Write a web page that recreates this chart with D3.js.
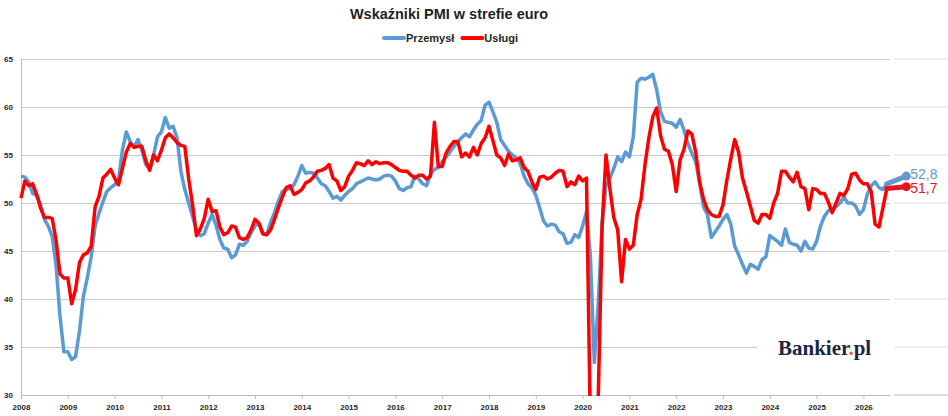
<!DOCTYPE html>
<html>
<head>
<meta charset="utf-8">
<script src="https://cdn.jsdelivr.net/npm/d3@7"></script>
<style>
  body { margin: 0; background: #fff; }
  svg { display: block; }
</style>
</head>
<body>
<script>
var width = 948;
var height = 416;

// x axis labels (one tick every 12 months, first month = Jan 2008)
var years = [2008, 2009, 2010, 2011, 2012, 2013, 2014, 2015, 2016, 2017,
             2018, 2019, 2020, 2021, 2022, 2023, 2024, 2025, 2026];
var yTicks = [30, 35, 40, 45, 50, 55, 60, 65];
var seriesNames = ["Przemysł", "Usługi"];

// monthly PMI
var przemysl = [
  52.8, 52.7, 52.2, 51.0, 50.8, 49.9, 48.3, 47.6, 46.5, 43.5, 38.2, 34.5,
  34.5, 33.7, 34.0, 36.7, 40.3, 42.2, 44.4, 47.6, 48.9, 50.1, 51.2, 51.6,
  51.9, 52.4, 55.5, 57.4, 56.4, 55.8, 56.6, 55.5, 54.0, 53.6, 55.0, 56.9,
  57.4, 58.9, 57.8, 58.0, 56.8, 53.3, 51.4, 50.0, 48.6, 47.2, 46.6, 46.8,
  47.9, 48.8, 47.7, 46.2, 45.3, 45.2, 44.3, 44.6, 45.7, 45.6, 46.0, 46.9,
  47.6, 47.9, 46.8, 46.7, 48.0, 49.0, 50.2, 51.2, 51.4, 51.5, 51.9, 52.8,
  53.9, 53.1, 53.2, 53.1, 52.6, 52.0, 51.8, 51.2, 50.5, 50.7, 50.3, 50.8,
  51.2, 51.5, 52.0, 52.2, 52.4, 52.6, 52.5, 52.4, 52.5, 52.8, 52.9, 52.8,
  52.3, 51.5, 51.3, 51.6, 51.7, 52.8, 52.5, 52.0, 51.8, 53.0, 53.5, 53.7,
  54.3, 54.8, 55.3, 55.9, 56.4, 56.8, 57.2, 56.9, 57.6, 58.2, 58.6, 60.2,
  60.5, 59.5, 58.4, 56.6, 56.0, 55.4, 55.0, 54.7, 54.1, 52.8, 52.0, 51.6,
  50.8, 49.5, 48.1, 47.6, 47.8, 47.7, 47.0, 46.8, 45.8, 45.9, 46.7, 46.4,
  47.6, 49.1, 44.5, 33.4, 39.4, 48.0, 51.8, 52.6, 53.6, 54.8, 54.3, 55.3,
  54.8, 56.9, 62.6, 63.0, 62.9, 63.1, 63.4, 61.8, 59.5, 58.5, 58.4, 58.3,
  57.9, 58.7, 57.6, 56.2, 55.2, 54.3, 52.1, 49.6, 48.8, 46.4, 47.0, 47.6,
  48.3, 48.8, 47.8, 45.5, 44.6, 43.6, 42.7, 43.6, 43.4, 43.1, 44.1, 44.4,
  46.6, 46.3, 46.0, 45.6, 47.3, 45.9, 45.7, 45.6, 45.0, 46.0, 45.3, 45.2,
  46.0, 47.6, 48.6, 49.2, 49.4, 49.6, 50.0, 50.6, 50.0, 50.0, 49.7, 48.8,
  49.3, 50.9, 51.8, 52.2, 51.6, 51.4, 52.0
];

var uslugi = [
  50.5, 52.3, 51.8, 52.0, 50.9, 49.5, 48.5, 48.5, 48.4, 46.1, 42.6, 42.2,
  42.2, 39.5, 41.0, 43.8, 44.6, 44.8, 45.5, 49.6, 50.7, 52.6, 53.0, 53.5,
  52.6, 51.9, 53.6, 55.3, 56.2, 55.8, 55.9, 55.9, 54.4, 53.4, 55.0, 54.4,
  55.5, 56.8, 57.2, 56.8, 56.3, 56.0, 55.9, 52.5, 49.8, 46.6, 47.3, 48.4,
  50.4, 49.1, 49.2, 47.5, 46.7, 46.9, 47.6, 47.5, 46.4, 46.2, 46.4, 47.2,
  48.3, 47.9, 46.8, 46.7, 47.2, 48.3, 49.5, 50.6, 51.6, 51.8, 50.9, 51.1,
  51.4, 52.1, 52.3, 52.7, 53.3, 53.4, 53.6, 54.0, 52.6, 52.3, 51.3, 51.7,
  52.8, 53.4, 54.2, 54.1, 53.9, 54.4, 54.0, 54.3, 54.1, 54.2, 54.2, 54.0,
  53.7, 53.4, 53.3, 53.3, 52.9, 52.6, 52.9, 52.9, 52.5, 52.8, 58.4, 53.8,
  53.8, 55.2, 55.9, 56.4, 56.4, 54.8, 55.2, 54.8, 55.8, 55.0, 56.2, 56.8,
  58.0, 56.5, 55.0, 54.7, 53.9, 55.1, 54.4, 54.5, 54.7, 53.7, 53.3, 52.2,
  51.4, 52.7, 52.8, 52.5, 52.7, 53.1, 53.4, 53.3, 51.7, 52.2, 51.9, 52.8,
  52.3, 52.6, 26.4, 12.0, 29.5, 47.5, 55.0, 51.5, 48.5, 47.2, 41.8, 46.2,
  45.2, 45.6, 48.8, 50.4, 54.0, 56.8, 59.0, 59.9, 57.0, 55.6, 55.4, 54.0,
  51.2, 54.5, 55.6, 57.5, 57.2, 55.3, 52.2, 50.4, 49.3, 48.8, 48.6, 48.6,
  49.8, 52.4, 54.6, 56.6, 55.3, 52.6, 51.2, 49.7, 48.2, 47.9, 48.8, 48.8,
  48.4, 50.0, 51.0, 53.3, 53.3, 52.7, 52.2, 53.2, 51.7, 51.5, 49.3, 51.5,
  51.4, 51.0, 51.0, 50.1, 49.0, 50.0, 51.0, 50.8, 51.5, 53.0, 53.1, 52.4,
  52.0, 52.0, 51.2, 47.8, 47.5, 49.5, 51.5
];

// latest readings shown next to the line ends
var lastValues = [52.8, 51.7];
var lastMonth = 227;

var colors = ["#5b9bd5", "#ff0000"];
var endColors = ["#6499c9", "#e8141c"];
var labelShift = [-2.5, 1.5];

var plotLeft = 21, plotRight = 890, plotTop = 59, plotBottom = 395;

var svg = d3.select("body")
            .append("svg")
            .attr("width", width)
            .attr("height", height)
            .style("font-family", "'Liberation Sans', Arial, sans-serif");

var x = d3.scaleLinear()
          .domain([0, (plotRight - plotLeft) / 3.9])
          .range([plotLeft, plotRight]);

var y = d3.scaleLinear()
          .domain([30, 65])
          .range([plotBottom, plotTop]);

// grid
var grid = svg.append("g")
              .attr("transform", "translate(" + plotLeft + ",0)")
              .call(d3.axisLeft(y).tickValues(yTicks).tickSize(-(plotRight - plotLeft)).tickFormat(""));
grid.select(".domain").remove();
grid.selectAll("line").attr("stroke", "#cacaca");

// short grid pieces on the right, behind the end labels
svg.append("g")
   .selectAll("line")
   .data(yTicks)
   .enter()
   .append("line")
   .attr("x1", 894)
   .attr("x2", width)
   .attr("y1", function(d) { return y(d); })
   .attr("y2", function(d) { return y(d); })
   .attr("stroke", function(d) { return d === 30 ? "#bdbdbd" : "#dedede"; });

// y axis
var yAxis = svg.append("g")
               .attr("transform", "translate(" + plotLeft + ",0)")
               .call(d3.axisLeft(y).tickValues(yTicks).tickSize(0).tickSizeOuter(0).tickPadding(8));
yAxis.select(".domain").attr("stroke", "#bdbdbd");
yAxis.selectAll("text")
     .attr("fill", "#262626")
     .attr("font-size", "8px")
     .attr("font-weight", "bold")
     .attr("font-family", "'Liberation Sans', Arial, sans-serif");

// x axis
var xAxis = svg.append("g")
               .attr("transform", "translate(0," + plotBottom + ")")
               .call(d3.axisBottom(x)
                       .tickValues(years.map(function(d, i) { return i * 12; }))
                       .tickFormat(function(d, i) { return years[i]; })
                       .tickSize(4)
                       .tickSizeOuter(0)
                       .tickPadding(5));
xAxis.select(".domain").attr("stroke", "#bdbdbd");
xAxis.selectAll("line").attr("stroke", "#bdbdbd");
xAxis.selectAll("text")
     .attr("fill", "#262626")
     .attr("font-size", "8px")
     .attr("font-weight", "bold")
     .attr("font-family", "'Liberation Sans', Arial, sans-serif");

// logo background hides the grid behind it
svg.append("rect")
   .attr("x", 757)
   .attr("y", 334)
   .attr("width", plotRight - 757)
   .attr("height", 28)
   .attr("fill", "#fff");

var logo = svg.append("text")
              .attr("x", 778)
              .attr("y", 354.5)
              .attr("font-family", "'Liberation Serif', 'DejaVu Serif', serif")
              .attr("font-weight", "bold")
              .attr("font-size", "21px")
              .attr("fill", "#1b2544");
logo.append("tspan").text("Bankier");
logo.append("tspan").attr("fill", "#e8652b").text(".");
logo.append("tspan").text("pl");

// lines
svg.append("clipPath")
   .attr("id", "plot")
   .append("rect")
   .attr("x", 0)
   .attr("y", 0)
   .attr("width", width)
   .attr("height", plotBottom + 1);

var line = d3.line()
             .x(function(d, i) { return x(i); })
             .y(function(d) { return y(d); });

var series = [przemysl, uslugi];

svg.append("g")
   .attr("clip-path", "url(#plot)")
   .selectAll("path")
   .data(series)
   .enter()
   .append("path")
   .attr("d", line)
   .attr("fill", "none")
   .attr("stroke", function(d, i) { return colors[i]; })
   .attr("stroke-width", 3.5)
   .attr("stroke-linejoin", "round");

// end segments, dots and labels
series.forEach(function(s, i) {
  var n = s.length - 1;
  svg.append("line")
     .attr("x1", x(n))
     .attr("y1", y(s[n]))
     .attr("x2", x(lastMonth))
     .attr("y2", y(lastValues[i]))
     .attr("stroke", endColors[i])
     .attr("stroke-width", 5)
     .attr("stroke-linecap", "round");
  svg.append("circle")
     .attr("cx", x(lastMonth))
     .attr("cy", y(lastValues[i]))
     .attr("r", 4.5)
     .attr("fill", endColors[i]);
  svg.append("text")
     .attr("x", x(lastMonth) + 4)
     .attr("y", y(lastValues[i]) + labelShift[i])
     .attr("dy", "0.35em")
     .attr("font-size", "14px")
     .attr("fill", endColors[i])
     .text(d3.format(".1f")(lastValues[i]).replace(".", ","));
});

// title
svg.append("text")
   .attr("x", 449)
   .attr("y", 19)
   .attr("text-anchor", "middle")
   .attr("font-size", "14.5px")
   .attr("font-weight", "bold")
   .attr("fill", "#1f1f1f")
   .text("Wskaźniki PMI w strefie euro");

// legend
var legend = svg.append("g");
var lx = 0;
seriesNames.forEach(function(name, i) {
  legend.append("line")
        .attr("x1", lx + 2)
        .attr("x2", lx + 22)
        .attr("y1", 38)
        .attr("y2", 38)
        .attr("stroke", colors[i])
        .attr("stroke-width", 4)
        .attr("stroke-linecap", "round");
  var t = legend.append("text")
                .attr("x", lx + 24)
                .attr("y", 42)
                .attr("font-size", "11px")
                .attr("font-weight", "bold")
                .attr("fill", "#262626")
                .text(name);
  lx += 24 + t.node().getComputedTextLength() + 6;
});
var lw = lx - 6;
legend.attr("transform", "translate(" + (450 - lw / 2) + ",0)");
</script>
</body>
</html>
